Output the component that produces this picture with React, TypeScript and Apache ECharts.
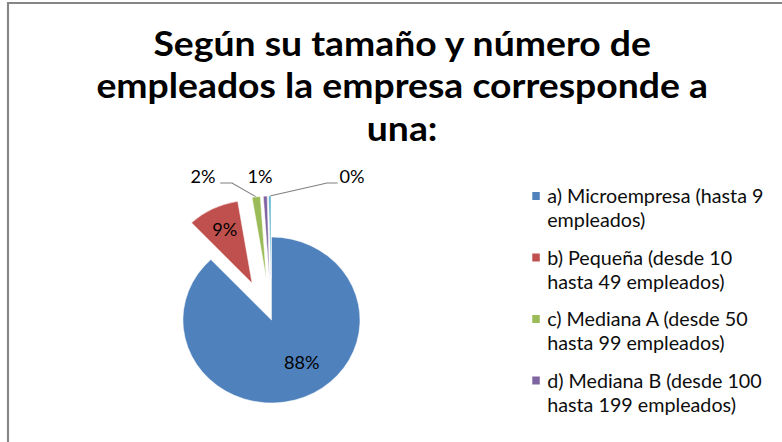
import React, { useEffect, useRef } from "react";
import * as echarts from "echarts";

const titleText = "Según su tamaño y número de\nempleados la empresa corresponde a\nuna:";
const categories = [
  "a) Microempresa (hasta 9 empleados)",
  "b) Pequeña (desde 10 hasta 49 empleados)",
  "c) Mediana A (desde 50 hasta 99 empleados)",
  "d) Mediana B (desde 100 hasta 199 empleados)",
  "e) Grande (200 o más empleados)",
];
const legendFirstLines = [
  "a) Microempresa (hasta 9",
  "b) Pequeña (desde 10",
  "c) Mediana A (desde 50",
  "d) Mediana B (desde 100",
];
const legendSecondLines = [
  "empleados)",
  "hasta 49 empleados)",
  "hasta 99 empleados)",
  "hasta 199 empleados)",
];
const values = [88.0, 9.4, 1.5, 0.7, 0.4];
const colors = ["#4F81BD", "#C0504D", "#9BBB59", "#8064A2", "#4BACC6"];
const exploded = [false, true, true, true, true];
const labelInside = [true, true, false, false, false];

// the reference image is stretched horizontally; we draw unstretched and scale the container
const STRETCH = 1.0667;
const W = 782 / STRETCH;
const H = 442;
const CX = 254.5;
const CY = 320;
const R = 83;
const EXPLODE = 41;

export default function App() {
  const ref = useRef<HTMLDivElement>(null);
  useEffect(() => {
    document.body.style.margin = "0";
    const chart = echarts.init(ref.current!, null, { renderer: "svg" });
    const legendNames = categories.slice(0, 4);
    const idx: Record<string, number> = {};
    legendNames.forEach((c, i) => (idx[c] = i));

    const outside: Record<number, { x: number; y: number; line?: number[][] }> = {
      2: { x: 190.3, y: 177, line: [[217.5, 183], [206.5, 183]] },
      3: { x: 243.7, y: 177 },
      4: { x: 330, y: 177, line: [[306.6, 183], [316.5, 183]] },
    };
    const inside: Record<number, { dx: number; dy: number }> = {
      0: { dx: 12, dy: 1 },
      1: { dx: -6, dy: -14 },
    };

    const richBase: Record<string, any> = {
      t: { fontFamily: "Lato", fontSize: 18.5, lineHeight: 24, color: "#0d0d0d", padding: [0, 0, 0, 7] },
      u: { fontFamily: "Lato", fontSize: 18.5, lineHeight: 24, color: "#0d0d0d", padding: [0, 0, 0, 14] },
    };
    colors.slice(0, 4).forEach((c, i) => {
      richBase["s" + i] = { width: 7, height: 8, backgroundColor: c, verticalAlign: "middle" };
    });

    const legendBase = {
      orient: "vertical",
      left: 494,
      padding: 0,
      itemWidth: 0.01,
      itemHeight: 8,
      itemGap: 37.5,
      icon: "rect",
      itemStyle: { opacity: 0, color: "rgba(0,0,0,0)", borderWidth: 0 },
      data: legendNames,
      selectedMode: false,
      textStyle: {
        fontFamily: "Lato",
        fontSize: 18.5,
        lineHeight: 24,
        color: "#0d0d0d",
        rich: richBase,
      },
    };

    chart.setOption({
      animation: false,
      title: {
        text: titleText,
        left: 372,
        top: 16,
        textAlign: "center",
        textStyle: {
          fontFamily: "Lato",
          fontWeight: "bold",
          fontSize: 35,
          lineHeight: 42.5,
          color: "#000",
        },
      },
      legend: [
        {
          ...legendBase,
          top: 184,
          formatter: (n: string) => `{s${idx[n]}|}{t|${legendFirstLines[idx[n]]}}`,
        },
        {
          ...legendBase,
          top: 208,
          formatter: (n: string) => `{u|${legendSecondLines[idx[n]]}}`,
        },
      ],
      graphic: [
        {
          type: "rect",
          shape: { x: 7.5, y: 3, width: 820, height: 520 },
          style: { fill: "none", stroke: "#868686", lineWidth: 2 },
          silent: true,
        },
      ],
      series: [
        {
          type: "pie",
          center: [CX, CY],
          radius: R,
          startAngle: 90,
          clockwise: true,
          selectedMode: "multiple",
          selectedOffset: EXPLODE,
          avoidLabelOverlap: false,
          emphasis: { disabled: true },
          itemStyle: { borderColor: "#fff", borderWidth: 0.5 },
          select: { itemStyle: { borderColor: "#fff", borderWidth: 0.5 } },
          label: {
            fontFamily: "Lato",
            fontSize: 17,
            color: "#000",
            formatter: (p: any) => Math.round(p.value) + "%",
          },
          labelLine: { show: false },
          labelLayout: (p: any) => {
            const d = inside[p.dataIndex];
            return d ? { dx: d.dx, dy: d.dy } : {};
          },
          data: values.map((v, i) => ({
            name: categories[i],
            value: v,
            selected: exploded[i],
            itemStyle: { color: colors[i] },
            label: { show: labelInside[i], position: "inside" },
          })),
        },
        {
          // transparent twin carrying the outside labels and leader lines
          type: "pie",
          center: [CX, CY],
          radius: R,
          startAngle: 90,
          clockwise: true,
          silent: true,
          avoidLabelOverlap: false,
          emphasis: { disabled: true },
          itemStyle: { color: "rgba(0,0,0,0)" },
          label: {
            position: "outside",
            fontFamily: "Lato",
            fontSize: 17,
            color: "#000",
            formatter: (p: any) => Math.round(p.value) + "%",
          },
          labelLine: {
            show: true,
            length: 10,
            length2: 10,
            lineStyle: { color: "#7f7f7f", width: 1 },
          },
          labelLayout: (p: any) => {
            const o = outside[p.dataIndex];
            if (!o) return {};
            const res: any = { x: o.x, y: o.y, align: "center", verticalAlign: "middle" };
            if (o.line && p.labelLinePoints && p.labelLinePoints.length) {
              const p0 = p.labelLinePoints[0];
              const vx = p0[0] - CX;
              const vy = p0[1] - CY;
              const len = Math.sqrt(vx * vx + vy * vy) || 1;
              const start = [p0[0] + (vx / len) * EXPLODE, p0[1] + (vy / len) * EXPLODE];
              res.labelLinePoints = [start, ...o.line];
            }
            return res;
          },
          data: values.map((v, i) => ({
            name: categories[i] + " ",
            value: v,
            label: { show: !labelInside[i] },
            labelLine: { show: !!(outside[i] && outside[i].line) },
          })),
        },
      ],
    });
    return () => chart.dispose();
  }, []);
  return (
    <div
      ref={ref}
      style={{
        position: "absolute",
        left: 0,
        top: 0,
        width: W,
        height: H,
        transform: `scaleX(${STRETCH})`,
        transformOrigin: "0 0",
      }}
    />
  );
}
